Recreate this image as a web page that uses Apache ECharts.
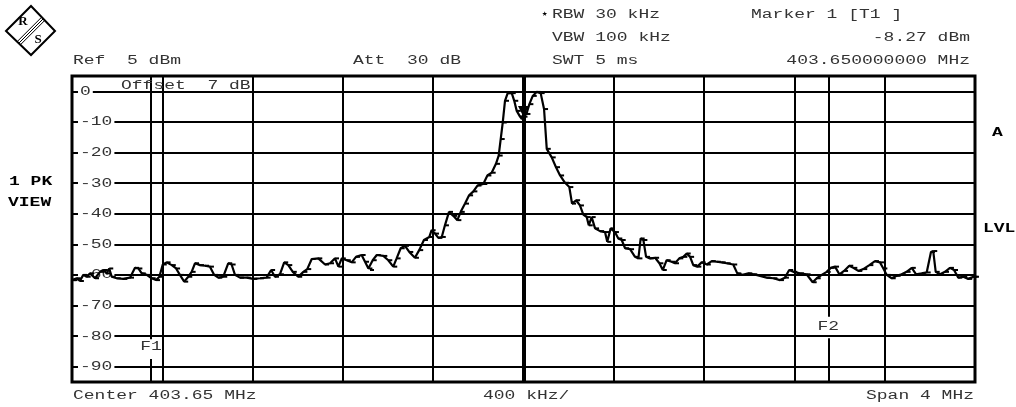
<!DOCTYPE html>
<html><head><meta charset="utf-8">
<script src="https://cdn.jsdelivr.net/npm/echarts@6/dist/echarts.min.js"></script>
<style>html,body{margin:0;padding:0;background:#fff}#c{width:1016px;height:407px}</style>
</head><body><div id="c"></div>
<script>
// ---- instrument settings / axes ----
const centerMHz = 403.65;
const halfSpanKHz = 2000;
const divKHz = 400;
const refLevel = 5;
const bottomLevel = -95;
const yTicks = [0, -10, -20, -30, -40, -50, -60, -70, -80, -90];
const yTickLabels = ['0', '-10', '-20', '-30', '-40', '-50', '-60', '-70', '-80', '-90'];

// ---- trace (frequency in MHz, level in dBm) ----
const freqMHz = [401.650, 401.656, 401.671, 401.685, 401.700, 401.715, 401.730, 401.752, 401.774, 401.789, 401.804, 401.815, 401.826, 401.848, 401.877, 401.907, 401.929, 401.944, 401.959, 401.981, 402.003, 402.022, 402.037, 402.052, 402.069, 402.092, 402.111, 402.128, 402.147, 402.165, 402.180, 402.195, 402.217, 402.239, 402.261, 402.280, 402.298, 402.320, 402.342, 402.357, 402.372, 402.394, 402.424, 402.453, 402.483, 402.512, 402.532, 402.549, 402.571, 402.590, 402.608, 402.628, 402.652, 402.675, 402.692, 402.712, 402.741, 402.771, 402.793, 402.815, 402.830, 402.845, 402.867, 402.889, 402.908, 402.933, 402.948, 402.963, 402.970, 402.982, 403.000, 403.029, 403.051, 403.073, 403.088, 403.106, 403.125, 403.144, 403.169, 403.188, 403.209, 403.233, 403.243, 403.258, 403.273, 403.288, 403.302, 403.320, 403.339, 403.357, 403.372, 403.391, 403.409, 403.428, 403.446, 403.472, 403.490, 403.509, 403.528, 403.540, 403.549, 403.558, 403.568, 403.580, 403.598, 403.609, 403.620, 403.634, 403.642, 403.650, 403.663, 403.676, 403.691, 403.708, 403.726, 403.741, 403.753, 403.775, 403.794, 403.812, 403.834, 403.853, 403.865, 403.883, 403.900, 403.915, 403.930, 403.939, 403.952, 403.967, 403.989, 404.011, 404.021, 404.036, 404.055, 404.070, 404.085, 404.100, 404.122, 404.144, 404.159, 404.169, 404.181, 404.193, 404.210, 404.233, 404.252, 404.267, 404.284, 404.306, 404.321, 404.340, 404.358, 404.373, 404.388, 404.402, 404.420, 404.439, 404.462, 404.484, 404.506, 404.528, 404.550, 404.579, 404.597, 404.621, 404.646, 404.668, 404.698, 404.727, 404.757, 404.786, 404.808, 404.827, 404.845, 404.875, 404.904, 404.931, 404.949, 404.971, 404.993, 405.011, 405.030, 405.049, 405.070, 405.093, 405.111, 405.133, 405.155, 405.182, 405.207, 405.229, 405.244, 405.259, 405.281, 405.303, 405.325, 405.347, 405.370, 405.389, 405.414, 405.436, 405.455, 405.465, 405.476, 405.495, 405.517, 405.539, 405.557, 405.576, 405.598, 405.620, 405.643, 405.650];
const levelDbm = [-61.7, -61.7, -61.1, -62.0, -60.0, -60.6, -59.5, -61.1, -59.0, -58.4, -59.5, -57.9, -60.6, -61.1, -61.3, -60.9, -57.7, -57.9, -59.5, -60.0, -61.1, -61.7, -60.6, -56.6, -55.9, -56.8, -57.9, -60.0, -62.2, -60.6, -59.0, -56.2, -56.8, -57.0, -57.3, -60.0, -60.9, -60.6, -56.2, -56.6, -60.0, -60.9, -60.9, -61.3, -61.1, -60.9, -58.4, -60.6, -59.8, -55.9, -56.8, -59.0, -60.6, -59.0, -58.1, -54.8, -54.6, -56.6, -56.2, -54.6, -57.3, -54.6, -55.2, -55.9, -54.1, -53.5, -55.7, -57.9, -58.4, -55.2, -53.5, -53.8, -55.2, -57.3, -54.6, -51.3, -50.5, -52.5, -54.4, -51.9, -48.6, -47.6, -45.4, -46.5, -47.9, -47.6, -43.8, -39.4, -40.7, -42.1, -39.4, -36.7, -34.0, -32.7, -30.8, -30.3, -27.5, -26.6, -23.7, -21.0, -15.6, -10.2, -3.1, -0.6, -0.6, -3.1, -6.4, -8.2, -9.0, -8.3, -7.4, -4.2, -1.5, -0.2, -0.6, -5.8, -18.8, -21.6, -24.8, -27.5, -29.9, -31.3, -36.7, -35.6, -37.3, -40.3, -41.1, -43.8, -41.1, -44.8, -45.7, -46.0, -49.2, -44.8, -46.0, -48.1, -48.6, -51.3, -51.6, -54.1, -54.6, -48.1, -48.6, -54.1, -54.6, -54.4, -56.2, -58.4, -55.2, -55.7, -56.2, -54.6, -54.1, -53.0, -54.1, -56.8, -57.3, -55.9, -56.6, -55.5, -55.7, -55.9, -56.2, -56.6, -59.5, -60.0, -59.5, -59.8, -60.3, -60.9, -61.1, -61.7, -60.9, -58.4, -59.0, -59.5, -59.8, -62.4, -61.1, -60.0, -59.0, -57.7, -57.3, -59.8, -58.7, -57.0, -57.7, -58.7, -58.1, -56.8, -55.5, -55.9, -57.9, -60.0, -61.1, -60.3, -59.8, -59.0, -57.7, -59.8, -59.5, -59.2, -52.5, -52.2, -59.0, -59.8, -59.0, -57.7, -58.4, -60.9, -60.6, -61.3, -60.6, -60.6];

// ---- marker and frequency lines ----
const markerFreqMHz = 403.65;
const markerLevelDbm = -8.27;
const freqLineNames = ['F1', 'F2'];
const freqLineMHz = [402.0, 405.0];
const freqLineGapTop = [-81.0, -73.7];
const freqLineGapBottom = [-87.5, -80.7];
const freqLineLabelLevel = [-83.3, -76.8];

const toKHz = f => Math.round((f - centerMHz) * 100000) / 100;
const traceData = freqMHz.map((f, i) => [toKHz(f), levelDbm[i]]);

const gridMarkLines = yTicks.map(v => ({ yAxis: v }));
freqLineMHz.forEach((f, i) => {
  gridMarkLines.push([{ coord: [toKHz(f), refLevel] }, { coord: [toKHz(f), freqLineGapTop[i]] }]);
  gridMarkLines.push([{ coord: [toKHz(f), freqLineGapBottom[i]] }, { coord: [toKHz(f), bottomLevel] }]);
});
gridMarkLines.push({ xAxis: 0, lineStyle: { width: 4, color: '#000' } });

const chart = echarts.init(document.getElementById('c'), null, { renderer: 'canvas' });
chart.setOption({
  animation: false,
  backgroundColor: '#fff',
  grid: { left: 72, top: 76, right: 41, bottom: 25, show: true, borderColor: '#000', borderWidth: 3, backgroundColor: 'transparent' },
  xAxis: {
    type: 'value', min: -halfSpanKHz, max: halfSpanKHz, interval: divKHz,
    axisLine: { show: false }, axisTick: { show: false }, axisLabel: { show: false },
    splitLine: { show: true, lineStyle: { color: '#000', width: 2 } }
  },
  yAxis: {
    type: 'value', min: bottomLevel, max: refLevel,
    axisLine: { show: false }, axisTick: { show: false }, axisLabel: { show: false },
    splitLine: { show: false }
  },
  series: [
    {
      type: 'line', data: [], z: 1, silent: true,
      markLine: {
        z: 1, silent: true, symbol: ['none', 'none'], label: { show: false },
        lineStyle: { color: '#000', width: 2, type: 'solid' },
        data: gridMarkLines
      }
    },
    {
      type: 'line', data: traceData, z: 10, silent: true,
      showSymbol: true, symbol: 'rect', symbolSize: [4, 2], symbolOffset: [2, 0],
      itemStyle: { color: '#000' },
      lineStyle: { color: '#000', width: 2.2 },
      markPoint: {
        z: 12, silent: true,
        symbol: 'triangle', symbolRotate: 180, symbolSize: [11, 11], symbolOffset: [0, -5],
        itemStyle: { color: '#000' }, label: { show: false },
        data: [{ coord: [toKHz(markerFreqMHz), markerLevelDbm] }]
      }
    }
  ]
});

const px = (kHz, db) => chart.convertToPixel({ gridIndex: 0 }, [kHz, db]);
const MONO = '"Liberation Mono", "DejaVu Sans Mono", monospace';
function txt(text, x, y, o) {
  o = o || {};
  return {
    type: 'text', x: x, y: y, z: o.z || 20, silent: true,
    scaleX: o.sx || 1, scaleY: o.sy || 0.74,
    style: {
      text: text, font: o.font || ('18px ' + MONO), fill: o.fill || '#333',
      textAlign: o.align || 'left', align: o.align || 'left',
      textVerticalAlign: 'middle', verticalAlign: 'middle',
      backgroundColor: o.bg, padding: o.pad
    }
  };
}

const els = [];
// header
els.push(txt('\u2605', 542, 14, { font: '9px ' + MONO, sy: 1, fill: '#000' }));
els.push(txt('RBW 30 kHz', 552, 14));
els.push(txt('VBW 100 kHz', 552, 37));
els.push(txt('SWT 5 ms', 552, 60));
els.push(txt('Marker 1 [T1 ]', 751, 14));
els.push(txt('-8.27 dBm', 970, 37, { align: 'right' }));
els.push(txt('403.650000000 MHz', 970, 60, { align: 'right' }));
els.push(txt('Ref  5 dBm', 73, 60));
els.push(txt('Att  30 dB', 353, 60));
// footer
els.push(txt('Center 403.65 MHz', 73, 395));
els.push(txt('400 kHz/', 483, 395));
els.push(txt('Span 4 MHz', 974, 395, { align: 'right' }));
// side labels
const BOLD = 'bold 18px ' + MONO;
els.push(txt('1 PK', 9, 182, { font: BOLD, fill: '#000', sy: 0.68 }));
els.push(txt('VIEW', 8, 203, { font: BOLD, fill: '#000', sy: 0.68 }));
els.push(txt('A', 992, 133, { font: BOLD, fill: '#000', sy: 0.68 }));
els.push(txt('LVL', 983, 229, { font: BOLD, fill: '#000', sy: 0.68 }));
// y tick labels on the grid lines
yTicks.forEach((v, i) => {
  const p = px(-halfSpanKHz, v);
  els.push(txt(yTickLabels[i], p[0] + 6, p[1], { bg: '#fff', pad: [0, 2, 0, 2], z: 3 }));
});
// offset label above the 0 line
{
  const p = px(-halfSpanKHz, 0);
  els.push(txt('Offset  7 dB', p[0] + 49, p[1] - 6, { z: 3 }));
}
// F1 / F2 labels
freqLineMHz.forEach((f, i) => {
  const p = px(toKHz(f), freqLineLabelLevel[i]);
  els.push(txt(freqLineNames[i], p[0], p[1], { align: 'center', z: 3 }));
});
// R&S logo
els.push({ type: 'polygon', z: 20, silent: true, shape: { points: [[6, 31], [31, 6], [55, 31], [31, 55]] }, style: { fill: '#fff', stroke: '#000', lineWidth: 2 } });
[[-1.6], [0], [1.6]].forEach(d => {
  els.push({ type: 'line', z: 21, silent: true, shape: { x1: 43 + d[0], y1: 19 + d[0], x2: 19 + d[0], y2: 43 + d[0] }, style: { stroke: '#000', lineWidth: 1 } });
});
els.push(txt('R', 23, 22, { font: 'bold 13px "Liberation Serif"', fill: '#000', sy: 1, align: 'center', z: 22 }));
els.push(txt('S', 38, 40, { font: 'bold 13px "Liberation Serif"', fill: '#000', sy: 1, align: 'center', z: 22 }));

chart.setOption({ graphic: { elements: els } });
</script>
</body></html>
